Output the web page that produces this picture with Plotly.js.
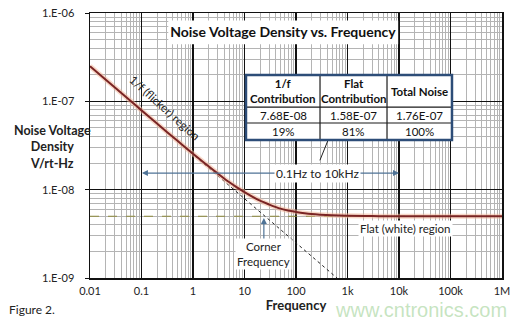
<!DOCTYPE html>
<html>
<head>
<meta charset="utf-8">
<script src="https://cdn.plot.ly/plotly-3.0.1.min.js"></script>
<style>html,body{margin:0;padding:0;background:#fff;}#chart{width:525px;height:323px;}</style>
</head>
<body>
<div id="chart"></div>
<script>
// ---- data ----
var freq = [0.01, 0.02, 0.05, 0.1, 0.2, 0.5, 1, 2, 3, 5, 7, 10, 15, 20, 30, 50, 70, 100, 200, 300, 500, 1000, 3000, 10000, 100000, 1000000];
var totalNoise = [2.5e-7, 1.77e-7, 1.12e-7, 7.9e-8, 5.6e-8, 3.57e-8, 2.55e-8, 1.84e-8, 1.53e-8, 1.22e-8, 1.07e-8, 9.4e-9, 8.2e-9, 7.5e-9, 6.8e-9, 6.1e-9, 5.8e-9, 5.6e-9, 5.3e-9, 5.2e-9, 5.12e-9, 5.06e-9, 5.02e-9, 5.0e-9, 5.0e-9, 5.0e-9];
var flickerFreq = [0.01, 625];
var flickerNoise = [2.5e-7, 1e-9];
var flatFreq = [0.01, 1000000];
var flatNoise = [5e-9, 5e-9];

var tableHeader = ['<b>1/f</b><br><b>Contribution</b>', '<b>Flat</b><br><b>Contribution</b>', '<b>Total Noise</b>'];
var tableValues = ['7.68E-08', '1.58E-07', '1.76E-07'];
var tablePercents = ['19%', '81%', '100%'];

var xTickVals = [0.01, 0.1, 1, 10, 100, 1000, 10000, 100000, 1000000];
var xTickText = ['0.01', '0.1', '1', '10', '100', '1k', '10k', '100k', '1M'];
var yTickVals = [1e-9, 1e-8, 1e-7, 1e-6];
var yTickText = ['1.E-09', '1.E-08', '1.E-07', '1.E-06'];

// minor grid positions (2..9 in each decade)
function minorVals(lo, hi) {
  var out = [];
  for (var e = lo; e < hi; e++) for (var m = 2; m <= 9; m++) out.push(m * Math.pow(10, e));
  return out;
}

var FONT = 'Lato, "Open Sans", sans-serif';
var arrowCol = '#4f7396';

var traces = [
  {x: flatFreq, y: flatNoise, mode: 'lines', line: {color: '#8f8a3c', width: 1.2, dash: 'dash'}, hoverinfo: 'skip', showlegend: false},
  {x: flickerFreq, y: flickerNoise, mode: 'lines', line: {color: '#222', width: 1, dash: 'dot'}, hoverinfo: 'skip', showlegend: false},
  {x: freq, y: totalNoise, mode: 'lines', line: {color: '#f2b89a', width: 5, shape: 'spline'}, opacity: 0.55, hoverinfo: 'skip', showlegend: false},
  {x: freq, y: totalNoise, mode: 'lines', line: {color: '#7a2424', width: 2, shape: 'spline'}, showlegend: false}
];

// ---- table geometry (paper coordinates) ----
var tX = [0.3786, 0.5583, 0.7209, 0.8786];   // column edges
var tY = [0.766, 0.645, 0.585, 0.521];       // row edges (top to bottom)

var shapes = [
  // white box behind the title
  {type: 'rect', xref: 'paper', yref: 'paper', x0: 0.19, x1: 0.748, y0: 0.882, y1: 0.972, fillcolor: '#fff', line: {width: 0}, layer: 'above'},
  // table background
  {type: 'rect', xref: 'paper', yref: 'paper', x0: tX[0], x1: tX[3], y0: tY[3], y1: tY[0], fillcolor: '#fff', line: {width: 0}, layer: 'above'},
  // leader line from the band label to the table
  {type: 'line', xref: 'paper', yref: 'paper', x0: 0.558, y0: 0.444, x1: 0.578, y1: tY[3], line: {color: '#222', width: 1}, layer: 'above'}
];
// inner table lines
[1, 2].forEach(function (i) {
  shapes.push({type: 'line', xref: 'paper', yref: 'paper', x0: tX[i], x1: tX[i], y0: tY[3], y1: tY[0], line: {color: '#1a1a1a', width: 1.2}, layer: 'above'});
  shapes.push({type: 'line', xref: 'paper', yref: 'paper', x0: tX[0], x1: tX[3], y0: tY[i], y1: tY[i], line: {color: '#1a1a1a', width: 1.2}, layer: 'above'});
});
// outer border
shapes.push({type: 'rect', xref: 'paper', yref: 'paper', x0: tX[0], x1: tX[3], y0: tY[3], y1: tY[0], fillcolor: 'rgba(0,0,0,0)', line: {color: '#2d4d78', width: 2.5}, layer: 'above'});

var annotations = [
  {xref: 'paper', yref: 'paper', x: -0.092, y: 0.493, xanchor: 'center', yanchor: 'middle', showarrow: false, align: 'center',
   text: '<b>Noise Voltage</b><br><b>Density</b><br><b>V/rt-Hz</b>', font: {family: FONT, size: 12.5, color: '#222'}},
  {xref: 'paper', yref: 'paper', x: 0.181, y: 0.643, xanchor: 'center', yanchor: 'middle', showarrow: false, textangle: 42,
   text: '1/f (flicker) region', font: {family: FONT, size: 11.5, color: '#222'}},
  // double arrow 0.1 Hz to 10 kHz
  {xref: 'paper', yref: 'paper', x: 0.126, y: 0.396, text: '', showarrow: true, axref: 'pixel', ayref: 'pixel', ax: 175, ay: 0,
   arrowhead: 2, arrowsize: 1, arrowwidth: 1.2, arrowcolor: arrowCol},
  {xref: 'paper', yref: 'paper', x: 0.750, y: 0.396, text: '', showarrow: true, axref: 'pixel', ayref: 'pixel', ax: -82, ay: 0,
   arrowhead: 2, arrowsize: 1, arrowwidth: 1.2, arrowcolor: arrowCol},
  {xref: 'paper', yref: 'paper', x: 0.551, y: 0.396, xanchor: 'center', yanchor: 'middle', showarrow: false, bgcolor: '#fff', borderpad: 1,
   text: '0.1Hz to 10kHz', font: {family: FONT, size: 12, color: '#222'}},
  // corner frequency
  {xref: 'paper', yref: 'paper', x: 0.422, y: 0.226, text: 'Corner<br>Frequency', showarrow: true,
   axref: 'pixel', ayref: 'pixel', ax: 0, ay: 36, arrowhead: 2, arrowsize: 1, arrowwidth: 1.2, arrowcolor: arrowCol,
   bgcolor: '#fff', borderpad: 1, font: {family: FONT, size: 11.5, color: '#222'}},
  {xref: 'paper', yref: 'paper', x: 0.765, y: 0.188, xanchor: 'center', yanchor: 'middle', showarrow: false, bgcolor: '#fff', borderpad: 1,
   text: 'Flat (white) region', font: {family: FONT, size: 11.5, color: '#222'}},
  {xref: 'paper', yref: 'paper', x: -0.2015, y: -0.117, xanchor: 'left', yanchor: 'middle', showarrow: false,
   text: 'Figure 2.', font: {family: FONT, size: 12, color: '#222'}},
  {xref: 'paper', yref: 'paper', x: 0.803, y: -0.12, xanchor: 'center', yanchor: 'middle', showarrow: false,
   text: 'www.cntronics.com', font: {family: '"Liberation Sans", Arial, sans-serif', size: 20, color: 'rgba(150,205,140,0.55)'}}
];
// table cell texts
var colCenters = [(tX[0] + tX[1]) / 2, (tX[1] + tX[2]) / 2, (tX[2] + tX[3]) / 2];
for (var c = 0; c < 3; c++) {
  annotations.push({xref: 'paper', yref: 'paper', x: colCenters[c], y: (tY[0] + tY[1]) / 2, xanchor: 'center', yanchor: 'middle',
    showarrow: false, align: 'center', text: tableHeader[c], font: {family: FONT, size: 11.5, color: '#111'}});
  annotations.push({xref: 'paper', yref: 'paper', x: colCenters[c], y: (tY[1] + tY[2]) / 2, xanchor: 'center', yanchor: 'middle',
    showarrow: false, text: tableValues[c], font: {family: FONT, size: 11.5, color: '#111'}});
  annotations.push({xref: 'paper', yref: 'paper', x: colCenters[c], y: (tY[2] + tY[3]) / 2, xanchor: 'center', yanchor: 'middle',
    showarrow: false, text: tablePercents[c], font: {family: FONT, size: 11.5, color: '#111'}});
}

var layout = {
  width: 525, height: 323,
  margin: {l: 90, r: 23, t: 13, b: 45},
  paper_bgcolor: '#fff', plot_bgcolor: '#fff',
  font: {family: FONT, size: 11, color: '#222'},
  showlegend: false,
  title: {
    text: '<b>Noise Voltage Density vs. Frequency</b>',
    font: {family: FONT, size: 14, color: '#111'},
    x: 0.539, xanchor: 'center', xref: 'container',
    y: 0.90, yanchor: 'middle', yref: 'container'
  },
  xaxis: {
    type: 'log', range: [-2, 6],
    tickmode: 'array', tickvals: xTickVals, ticktext: xTickText,
    showgrid: true, gridcolor: '#111', gridwidth: 1.5,
    minor: {tickmode: 'array', tickvals: minorVals(-2, 6), showgrid: true, gridcolor: '#b4b4b4', gridwidth: 1, ticks: ''},
    showline: true, linecolor: '#111', linewidth: 1.5, mirror: true,
    ticks: 'outside', ticklen: 2, tickcolor: 'rgba(0,0,0,0)', zeroline: false,
    tickfont: {family: FONT, size: 11, color: '#222'},
    title: {text: '<b>Frequency</b>', font: {family: FONT, size: 13, color: '#222'}, standoff: 0}
  },
  yaxis: {
    type: 'log', range: [-9, -6],
    tickmode: 'array', tickvals: yTickVals, ticktext: yTickText,
    showgrid: true, gridcolor: '#111', gridwidth: 1.5,
    minor: {tickmode: 'array', tickvals: minorVals(-9, -6), showgrid: true, gridcolor: '#b4b4b4', gridwidth: 1, ticks: ''},
    showline: true, linecolor: '#111', linewidth: 1.5, mirror: true,
    ticks: 'outside', ticklen: 4, tickcolor: '#111', ticklabelstandoff: 8,
    tickfont: {family: FONT, size: 11, color: '#222'},
    zeroline: false
  },
  shapes: shapes,
  annotations: annotations
};

Plotly.newPlot('chart', traces, layout, {displayModeBar: false, staticPlot: true});
</script>
</body>
</html>
